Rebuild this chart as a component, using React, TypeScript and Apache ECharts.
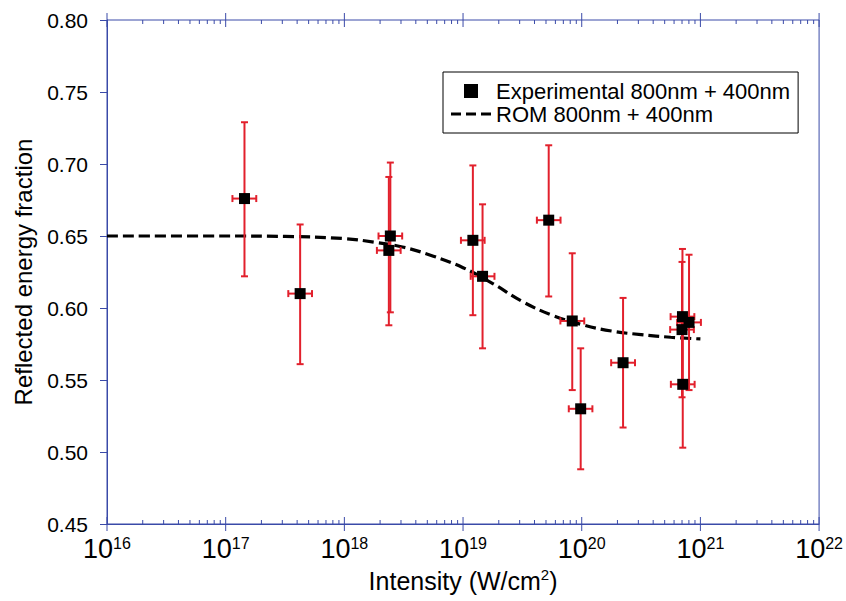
import React, { useEffect, useRef } from "react";
import * as echarts from "echarts";

// Experimental data (intensity W/cm^2, reflected energy fraction)
const intensity = [1.44e17, 4.24e17, 2.37e18, 2.44e18, 1.21e19, 1.46e19, 5.27e19, 8.32e19, 9.8e19, 2.23e20, 7.06e20, 8.02e20, 7.0e20, 7.1e20];
const fraction = [0.676, 0.610, 0.640, 0.650, 0.647, 0.622, 0.661, 0.591, 0.530, 0.562, 0.594, 0.590, 0.585, 0.547];
const fractionLow = [0.622, 0.561, 0.588, 0.597, 0.595, 0.572, 0.608, 0.543, 0.488, 0.517, 0.546, 0.543, 0.538, 0.503];
const fractionHigh = [0.729, 0.658, 0.691, 0.701, 0.699, 0.672, 0.713, 0.638, 0.572, 0.607, 0.641, 0.637, 0.632, 0.590];
const intensityLow = [1.14e17, 3.37e17, 1.88e18, 1.94e18, 0.96e19, 1.16e19, 4.19e19, 6.61e19, 7.78e19, 1.77e20, 5.61e20, 6.37e20, 5.56e20, 5.64e20];
const intensityHigh = [1.81e17, 5.34e17, 2.98e18, 3.07e18, 1.52e19, 1.84e19, 6.63e19, 10.5e19, 12.3e19, 2.81e20, 8.89e20, 10.1e20, 8.81e20, 8.94e20];

// ROM model curve
const romIntensity = [1e16, 1e17, 3.16e17, 1e18, 1.78e18, 3.16e18, 5.62e18, 1e19, 1.78e19, 3.16e19, 5.62e19, 1e20, 1.78e20, 3.16e20, 5.62e20, 1e21];
const romFraction = [0.650, 0.650, 0.6497, 0.6482, 0.6457, 0.6422, 0.636, 0.628, 0.617, 0.6045, 0.595, 0.5885, 0.584, 0.5815, 0.5797, 0.5785];

// Axis ticks
const majorTicks = [1e16, 1e17, 1e18, 1e19, 1e20, 1e21, 1e22];
const minorMultipliers = [2, 3, 4, 5, 6, 7, 8, 9];
const yMin = 0.45;
const yMax = 0.8;
const yStep = 0.05;

const SERIES_EXP = "Experimental 800nm + 400nm";
const SERIES_ROM = "ROM 800nm + 400nm";

const FONT = "'Liberation Sans', Arial, Helvetica, sans-serif";
const AXIS_BLUE = "#3a4aa8";
const ERR_RED = "#e2202c";

export default function App() {
  const ref = useRef<HTMLDivElement>(null);

  useEffect(() => {
    document.body.style.margin = "0";
    if (!ref.current) return;
    const chart = echarts.init(ref.current, undefined, { renderer: "svg" });

    const tickData: number[][] = [];
    majorTicks.forEach((t) => tickData.push([t, 1]));
    for (let i = 0; i < majorTicks.length - 1; i++) {
      minorMultipliers.forEach((m) => tickData.push([majorTicks[i] * m, 0]));
    }

    const errData = intensity.map((x, i) => [x, fraction[i], fractionLow[i], fractionHigh[i], intensityLow[i], intensityHigh[i]]);
    const expData = intensity.map((x, i) => [x, fraction[i]]);
    const romData = romIntensity.map((x, i) => [x, romFraction[i]]);

    chart.setOption({
      animation: false,
      textStyle: { fontFamily: FONT },
      grid: {
        left: 107,
        right: 24,
        top: 20,
        bottom: 77,
        show: true,
        borderColor: AXIS_BLUE,
        borderWidth: 1,
        backgroundColor: "transparent",
      },
      legend: {
        orient: "vertical",
        left: 443,
        top: 72,
        padding: [8, 8, 8, 8],
        itemGap: 1,
        itemWidth: 40,
        itemHeight: 14,
        backgroundColor: "#fff",
        borderColor: "#000",
        borderWidth: 1,
        borderRadius: 0,
        textStyle: { fontSize: 22, color: "#000", fontFamily: FONT },
        data: [
          { name: SERIES_EXP, icon: "path://M0,0L10,0L10,10L0,10Z", itemStyle: { color: "#000", opacity: 1 } },
          {
            name: SERIES_ROM,
            icon: "path://M0,0H10V3H0Z M15,0H25V3H15Z M30,0H40V3H30Z",
            itemStyle: { color: "#000", opacity: 1 },
          },
        ],
      },
      xAxis: {
        type: "log",
        logBase: 10,
        min: 1e16,
        max: 1e22,
        splitNumber: 6,
        name: "{a|Intensity (W/cm}{s|2}{a|)}",
        nameLocation: "middle",
        nameGap: 42,
        nameTextStyle: {
          rich: {
            a: { fontSize: 25, color: "#000", fontFamily: FONT, lineHeight: 28 },
            s: { fontSize: 15, color: "#000", fontFamily: FONT, lineHeight: 15, verticalAlign: "top" },
          },
        },
        axisLine: { show: true, lineStyle: { color: AXIS_BLUE, width: 1 } },
        axisTick: { show: false },
        splitLine: { show: false },
        axisLabel: {
          margin: 11,
          formatter: (v: number) => `{b|10}{s|${Math.round(Math.log10(v))}}`,
          rich: {
            b: { fontSize: 27, color: "#000", fontFamily: FONT, lineHeight: 28 },
            s: { fontSize: 16, color: "#000", fontFamily: FONT, lineHeight: 16, verticalAlign: "top" },
          },
        },
      },
      yAxis: {
        type: "value",
        min: yMin,
        max: yMax,
        interval: yStep,
        name: "Reflected energy fraction",
        nameLocation: "middle",
        nameGap: 72,
        nameTextStyle: { fontSize: 24, color: "#000", fontFamily: FONT },
        axisLine: { show: true, lineStyle: { color: AXIS_BLUE, width: 1 } },
        axisTick: { show: true, inside: false, length: 7, lineStyle: { color: AXIS_BLUE, width: 1 } },
        splitLine: { show: false },
        axisLabel: {
          margin: 19,
          fontSize: 21,
          color: "#000",
          fontFamily: FONT,
          formatter: (v: number) => v.toFixed(2),
        },
      },
      series: [
        {
          type: "custom",
          name: "ticks",
          silent: true,
          z: 1,
          clip: false,
          data: tickData,
          encode: { x: 0 },
          renderItem: (params: any, api: any) => {
            const v = api.value(0);
            const major = api.value(1) === 1;
            const cs = params.coordSys;
            const px = api.coord([v, yMin])[0];
            const top = cs.y;
            const bottom = cs.y + cs.height;
            const style = { stroke: AXIS_BLUE, lineWidth: 1 };
            if (major) {
              return {
                type: "group",
                children: [
                  { type: "line", shape: { x1: px, y1: top - 7, x2: px, y2: top + 7 }, style },
                  { type: "line", shape: { x1: px, y1: bottom - 7, x2: px, y2: bottom + 7 }, style },
                ],
              };
            }
            return {
              type: "group",
              children: [
                { type: "line", shape: { x1: px, y1: top, x2: px, y2: top + 4 }, style },
                { type: "line", shape: { x1: px, y1: bottom - 4, x2: px, y2: bottom }, style },
              ],
            };
          },
        },
        {
          type: "line",
          name: SERIES_ROM,
          data: romData,
          smooth: 0.4,
          symbol: "none",
          showSymbol: false,
          z: 2,
          lineStyle: { color: "#000", width: 3.2, type: [11, 5] },
          itemStyle: { color: "#000" },
        },
        {
          type: "custom",
          name: "errorbars",
          z: 3,
          data: errData,
          encode: { x: 0, y: 1 },
          renderItem: (params: any, api: any) => {
            const x = api.value(0);
            const y = api.value(1);
            const lo = api.coord([x, api.value(2)]);
            const hi = api.coord([x, api.value(3)]);
            const l = api.coord([api.value(4), y]);
            const r = api.coord([api.value(5), y]);
            const style = { stroke: ERR_RED, lineWidth: 2 };
            const cap = 3.5;
            return {
              type: "group",
              children: [
                { type: "line", shape: { x1: lo[0], y1: lo[1], x2: hi[0], y2: hi[1] }, style },
                { type: "line", shape: { x1: hi[0] - cap, y1: hi[1], x2: hi[0] + cap, y2: hi[1] }, style },
                { type: "line", shape: { x1: lo[0] - cap, y1: lo[1], x2: lo[0] + cap, y2: lo[1] }, style },
                { type: "line", shape: { x1: l[0], y1: l[1], x2: r[0], y2: r[1] }, style },
                { type: "line", shape: { x1: l[0], y1: l[1] - cap, x2: l[0], y2: l[1] + cap }, style },
                { type: "line", shape: { x1: r[0], y1: r[1] - cap, x2: r[0], y2: r[1] + cap }, style },
              ],
            };
          },
        },
        {
          type: "scatter",
          name: SERIES_EXP,
          data: expData,
          symbol: "rect",
          symbolSize: 11,
          z: 4,
          itemStyle: { color: "#000", opacity: 1 },
        },
      ],
    });

    return () => {
      chart.dispose();
    };
  }, []);

  return <div ref={ref} style={{ width: 846, height: 601 }} />;
}
